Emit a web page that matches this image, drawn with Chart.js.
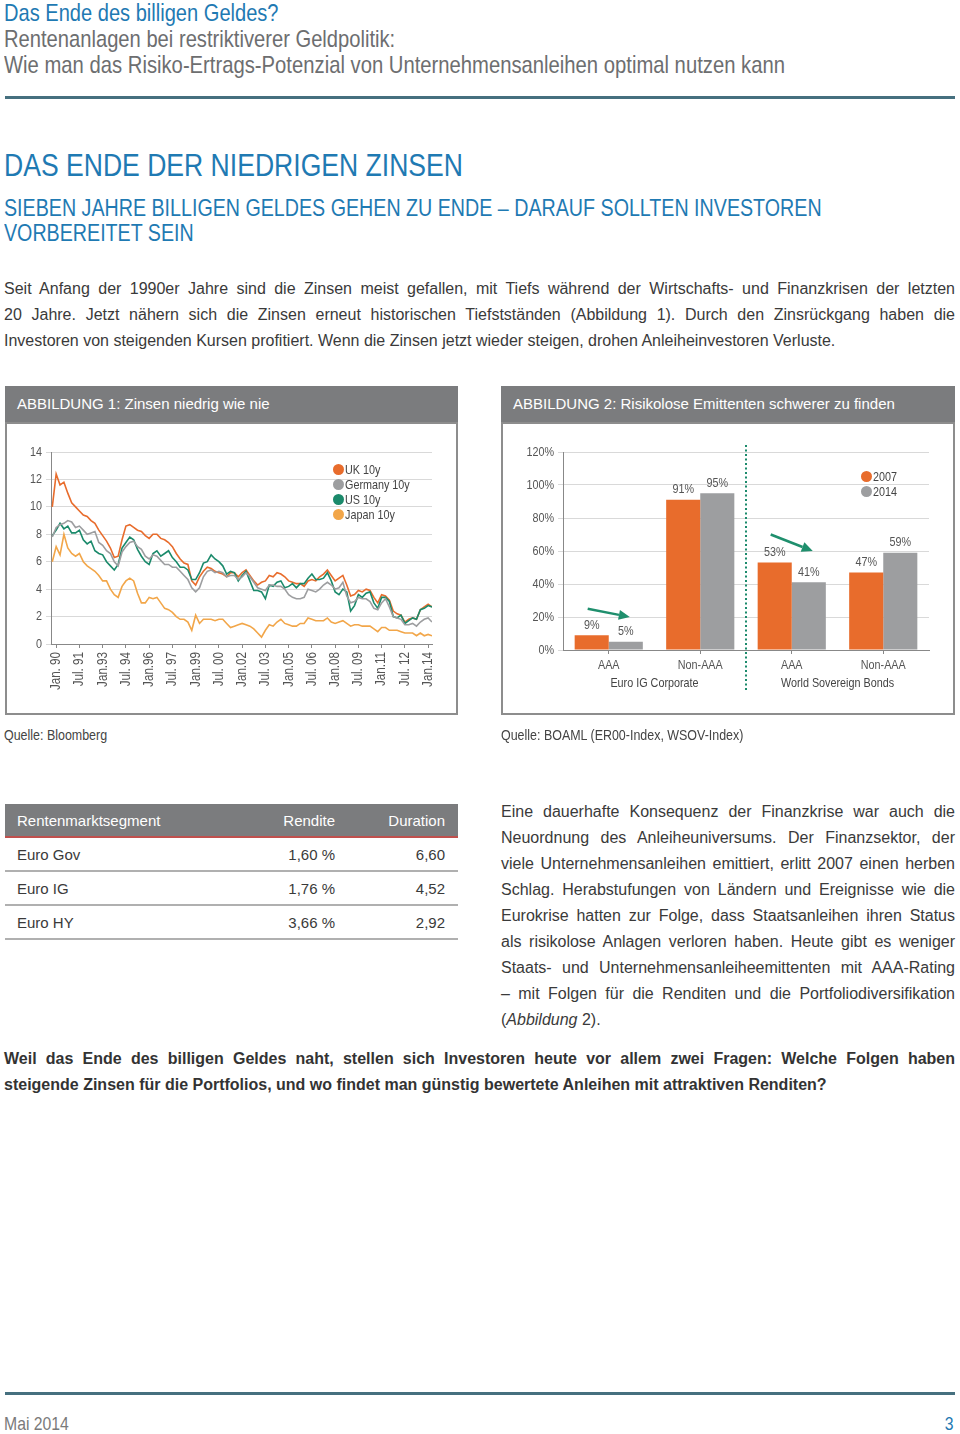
<!DOCTYPE html>
<html>
<head>
<meta charset="utf-8">
<script src="https://cdn.jsdelivr.net/npm/chart.js/dist/chart.umd.min.js"></script>
<style>
    body { margin: 0; background: #fff; }
    #page { position: relative; width: 960px; height: 1434px; overflow: hidden;
            font-family: "Liberation Sans", Arial, sans-serif; color: #3a3a3a; }
    .abs { position: absolute; }
    /* schmale Schrift: Arial-Metrik, horizontal gestaucht */
    .cond { display: inline-block; white-space: nowrap; transform: scaleX(0.83); transform-origin: 0 50%; }
    .blue { color: #1f7ab3; }
    .grey { color: #6d6e70; }
    .rule { background: #46707f; height: 3px; }
    .just div { text-align: justify; text-align-last: justify; }
    .just div.last { text-align: left; text-align-last: left; }
    .phead { height: 36px; line-height: 36px; background: #7b7c7e; color: #fff; font-size: 15px;
             padding-left: 12px; box-sizing: border-box; }
    .pbody { height: 293px; border: 2px solid #8d8d8d; box-sizing: border-box; pointer-events: none; }
    .legend { font-size: 13px; line-height: 15px; color: #444; }
    .legend .dot { display: inline-block; width: 11px; height: 11px; border-radius: 50%;
                   vertical-align: -1px; margin-right: 1px; }
    .tbl { border-collapse: collapse; font-size: 15px; color: #3a3a3a; }
    .tbl td { padding: 0; height: 32px; border-bottom: 2px solid #b0b0b0; white-space: nowrap; }
    .tbl tr.th td { background: #7b7c7e; color: #fff; border-bottom: 2px solid #c0504d; }
    .tbl td.l { padding-left: 12px; }
    .tbl td.r { text-align: right; }
    .tbl td.pr { padding-right: 13px; }
</style>
</head>
<body>
<div id="page">

    <!-- Kopfzeile -->
    <div class="abs blue" style="left:4px; top:0; font-size:24.2px; line-height:26px;"><span class="cond">Das Ende des billigen Geldes?</span></div>
    <div class="abs grey" style="left:4px; top:26px; font-size:24.3px; line-height:26px;"><span class="cond">Rentenanlagen bei restriktiverer Geldpolitik:</span></div>
    <div class="abs grey" style="left:4px; top:52px; font-size:24.4px; line-height:26px;"><span class="cond">Wie man das Risiko-Ertrags-Potenzial von Unternehmensanleihen optimal nutzen kann</span></div>
    <div class="abs rule" style="left:5px; top:96px; width:950px;"></div>

    <!-- Überschriften -->
    <div class="abs blue" style="left:4px; top:145px; font-size:32px; line-height:40px;"><span class="cond">DAS ENDE DER NIEDRIGEN ZINSEN</span></div>
    <div class="abs blue" style="left:4px; top:196px; font-size:23.7px; line-height:25px;"><span class="cond">SIEBEN JAHRE BILLIGEN GELDES GEHEN ZU ENDE – DARAUF SOLLTEN INVESTOREN</span></div>
    <div class="abs blue" style="left:4px; top:221px; font-size:23.7px; line-height:25px;"><span class="cond">VORBEREITET SEIN</span></div>

    <!-- Einleitung -->
    <div class="abs just" style="left:4px; top:276px; width:951px; font-size:16px; line-height:26px;">
        <div>Seit Anfang der 1990er Jahre sind die Zinsen meist gefallen, mit Tiefs während der Wirtschafts- und Finanzkrisen der letzten</div>
        <div>20 Jahre. Jetzt nähern sich die Zinsen erneut historischen Tiefstständen (Abbildung 1). Durch den Zinsrückgang haben die</div>
        <div class="last">Investoren von steigenden Kursen profitiert. Wenn die Zinsen jetzt wieder steigen, drohen Anleiheinvestoren Verluste.</div>
    </div>

    <!-- Abbildung 1 -->
    <div class="abs phead" style="left:5px; top:386px; width:453px;">ABBILDUNG 1: Zinsen niedrig wie nie</div>
    <canvas id="chart1" class="abs" width="453" height="293" style="left:5px; top:422px;"></canvas>
    <div class="abs pbody" style="left:5px; top:422px; width:453px;"></div>
    <div class="abs legend" style="left:333px; top:462px;">
        <div><span class="dot" style="background:#e86c2c"></span><span class="cond">UK 10y</span></div>
        <div><span class="dot" style="background:#9d9ea0"></span><span class="cond">Germany 10y</span></div>
        <div><span class="dot" style="background:#1b8a6b"></span><span class="cond">US 10y</span></div>
        <div><span class="dot" style="background:#f2a649"></span><span class="cond">Japan 10y</span></div>
    </div>

    <!-- Abbildung 2 -->
    <div class="abs phead" style="left:501px; top:386px; width:454px;">ABBILDUNG 2: Risikolose Emittenten schwerer zu finden</div>
    <canvas id="chart2" class="abs" width="454" height="293" style="left:501px; top:422px;"></canvas>
    <div class="abs pbody" style="left:501px; top:422px; width:454px;"></div>
    <div class="abs legend" style="left:861px; top:469px;">
        <div><span class="dot" style="background:#e86c2c"></span><span class="cond">2007</span></div>
        <div><span class="dot" style="background:#9d9ea0"></span><span class="cond">2014</span></div>
    </div>

    <div class="abs" style="left:4px; top:725px; font-size:15px; line-height:20px; color:#444;"><span class="cond">Quelle: Bloomberg</span></div>
    <div class="abs" style="left:501px; top:725px; font-size:15px; line-height:20px; color:#444;"><span class="cond">Quelle: BOAML (ER00-Index, WSOV-Index)</span></div>

    <!-- Tabelle -->
    <table class="abs tbl" style="left:5px; top:804px; width:453px;">
        <colgroup><col style="width:240px"><col style="width:90px"><col style="width:123px"></colgroup>
        <tr class="th"><td class="l">Rentenmarktsegment</td><td class="r">Rendite</td><td class="r pr">Duration</td></tr>
        <tr><td class="l">Euro Gov</td><td class="r">1,60 %</td><td class="r pr">6,60</td></tr>
        <tr><td class="l">Euro IG</td><td class="r">1,76 %</td><td class="r pr">4,52</td></tr>
        <tr><td class="l">Euro HY</td><td class="r">3,66 %</td><td class="r pr">2,92</td></tr>
    </table>

    <!-- rechte Spalte -->
    <div class="abs just" style="left:501px; top:799px; width:454px; font-size:16px; line-height:26px;">
        <div>Eine dauerhafte Konsequenz der Finanzkrise war auch die</div>
        <div>Neuordnung des Anleiheuniversums. Der Finanzsektor, der</div>
        <div>viele Unternehmensanleihen emittiert, erlitt 2007 einen herben</div>
        <div>Schlag. Herabstufungen von Ländern und Ereignisse wie die</div>
        <div>Eurokrise hatten zur Folge, dass Staatsanleihen ihren Status</div>
        <div>als risikolose Anlagen verloren haben. Heute gibt es weniger</div>
        <div>Staats- und Unternehmensanleiheemittenten mit AAA-Rating</div>
        <div>– mit Folgen für die Renditen und die Portfoliodiversifikation</div>
        <div class="last">(<i>Abbildung</i> 2).</div>
    </div>

    <div class="abs just" style="left:4px; top:1046px; width:951px; font-size:16px; line-height:26px; font-weight:bold; color:#333;">
        <div>Weil das Ende des billigen Geldes naht, stellen sich Investoren heute vor allem zwei Fragen: Welche Folgen haben</div>
        <div class="last">steigende Zinsen für die Portfolios, und wo findet man günstig bewertete Anleihen mit attraktiven Renditen?</div>
    </div>

    <!-- Fußzeile -->
    <div class="abs rule" style="left:5px; top:1392px; width:950px;"></div>
    <div class="abs" style="left:4px; top:1415px; font-size:19px; line-height:18px; color:#7a7a7a;"><span class="cond">Mai 2014</span></div>
    <div class="abs blue" style="left:935px; top:1415px; width:19px; text-align:right; font-size:19px; line-height:18px;"><span class="cond" style="transform-origin:100% 50%;">3</span></div>
</div>

<script>
    const sans = '"Liberation Sans", Arial, sans-serif';
    const SQUEEZE = 0.83;
    Chart.defaults.font.family = sans;
    Chart.defaults.font.size = 13;
    Chart.defaults.color = '#555';

    const ORANGE = '#e86c2c', GRAY = '#9d9ea0', GREEN = '#1b8a6b', LIGHTORANGE = '#f2a649';

    // ---- Abbildung 1: 10-jährige Renditen, quartalsweise ab Okt. 1989 (Monat -3) ----
    const startMonth = -3;
    const xTickLabels = ['Jan. 90', 'Jul. 91', 'Jan.93', 'Jul. 94', 'Jan.96', 'Jul. 97', 'Jan.99', 'Jul. 00',
                         'Jan.02', 'Jul. 03', 'Jan.05', 'Jul. 06', 'Jan.08', 'Jul. 09', 'Jan.11', 'Jul. 12', 'Jan.14'];

    const uk10y = [
        10.0,
        12.4, 11.6, 11.8, 11.0,   // 1990
        10.3, 10.0, 9.7, 9.4,     // 1991
        9.3, 9.0, 8.8, 8.3,       // 1992
        7.9, 7.5, 7.0, 6.3,       // 1993
        6.4, 7.6, 8.6, 8.7,       // 1994
        8.5, 8.3, 8.2, 7.9,       // 1995
        7.7, 8.0, 8.0, 7.7,       // 1996
        7.6, 7.4, 7.1, 6.6,       // 1997
        6.2, 5.9, 5.8, 4.6,       // 1998
        4.3, 4.9, 5.3, 5.6,       // 1999
        5.5, 5.3, 5.2, 5.1,       // 2000
        4.9, 5.2, 5.2, 4.9,       // 2001
        5.2, 5.4, 5.0, 4.6,       // 2002
        4.3, 4.5, 4.6, 5.0,       // 2003
        4.9, 5.2, 5.1, 4.9,       // 2004
        4.6, 4.5, 4.4, 4.4,       // 2005
        4.2, 4.6, 4.7, 4.6,       // 2006
        4.9, 5.1, 5.4, 5.0,       // 2007
        4.6, 4.8, 5.0, 4.3,       // 2008
        3.5, 3.6, 3.9, 3.8,       // 2009
        4.0, 3.9, 3.4, 3.0,       // 2010
        3.6, 3.5, 3.2, 2.4,       // 2011
        2.2, 2.1, 1.6, 1.8,       // 2012
        1.9, 1.8, 2.5, 2.7,       // 2013
        2.9, 2.7                  // 2014
    ];
    const germany10y = [
        7.8,
        8.5, 8.7, 8.8, 9.0,
        8.9, 8.5, 8.6, 8.3,
        8.0, 8.1, 8.2, 7.4,
        7.2, 6.8, 6.6, 6.0,
        5.7, 6.7, 7.1, 7.4,
        7.5, 7.1, 6.9, 6.4,
        6.2, 6.5, 6.4, 6.1,
        5.8, 5.8, 5.6, 5.6,
        5.3, 5.0, 4.7, 4.1,
        3.8, 4.1, 4.9, 5.3,
        5.4, 5.2, 5.3, 5.2,
        4.9, 5.0, 5.0, 4.7,
        4.9, 5.2, 4.9, 4.5,
        4.1, 4.0, 3.9, 4.3,
        4.3, 4.2, 4.2, 4.0,
        3.6, 3.4, 3.3, 3.3,
        3.4, 4.0, 3.9, 3.8,
        4.0, 4.3, 4.5, 4.3,
        4.0, 4.1, 4.5, 3.5,
        3.0, 3.1, 3.4, 3.3,
        3.3, 3.1, 2.6, 2.5,
        3.0, 3.3, 2.7, 2.0,
        1.9, 1.8, 1.4, 1.4,
        1.5, 1.3, 1.6, 1.8,
        1.9, 1.6
    ];
    const us10y = [
        7.9,
        8.3, 8.8, 8.4, 8.6,
        8.1, 8.1, 8.3, 7.6,
        7.3, 7.5, 6.8, 6.6,
        6.5, 6.0, 5.7, 5.4,
        5.8, 7.0, 7.4, 7.8,
        7.6, 6.9, 6.4, 6.0,
        5.8, 6.6, 6.8, 6.4,
        6.6, 6.8, 6.3, 6.0,
        5.6, 5.6, 5.4, 4.7,
        4.7, 5.2, 5.9, 6.0,
        6.5, 6.2, 6.0, 5.7,
        5.1, 5.3, 5.2, 4.6,
        5.0, 5.3, 4.6, 3.9,
        3.9, 3.8, 3.3, 4.3,
        4.2, 4.5, 4.6, 4.1,
        4.2, 4.4, 4.1, 4.4,
        4.4, 4.8, 5.1, 4.7,
        4.7, 4.8, 5.2, 4.6,
        3.8, 3.6, 4.0, 3.8,
        2.4, 2.8, 3.6, 3.4,
        3.7, 3.8, 3.0, 2.6,
        3.4, 3.4, 3.1, 2.0,
        1.9, 2.1, 1.5, 1.7,
        1.9, 1.8, 2.5, 2.6,
        2.8, 2.7
    ];
    const japan10y = [
        6.0,
        7.1, 6.5, 8.0, 7.0,
        6.6, 6.4, 6.6, 6.0,
        5.7, 5.5, 5.3, 5.0,
        4.6, 4.6, 4.0, 3.6,
        3.4, 4.2, 4.6, 4.8,
        4.6, 3.7, 3.0, 3.0,
        3.4, 3.3, 3.4, 3.0,
        2.6, 2.5, 2.3, 2.0,
        1.8, 1.8, 1.6, 1.0,
        2.1, 1.5, 1.8, 1.8,
        1.8, 1.7, 1.8, 1.8,
        1.5, 1.2, 1.3, 1.4,
        1.5, 1.4, 1.3, 1.1,
        0.8, 0.5, 1.0, 1.4,
        1.3, 1.6, 1.8, 1.5,
        1.4, 1.3, 1.3, 1.5,
        1.5, 1.9, 1.8, 1.7,
        1.7, 1.7, 1.9, 1.6,
        1.5, 1.6, 1.7, 1.5,
        1.3, 1.4, 1.4, 1.3,
        1.3, 1.3, 1.1, 0.9,
        1.2, 1.2, 1.0, 1.0,
        1.0, 0.9, 0.8, 0.8,
        0.8, 0.6, 0.8, 0.6,
        0.7, 0.6
    ];

    // ---- Abbildung 2: Anteile in % ----
    const ratingLabels = ['AAA', 'Non-AAA', 'AAA', 'Non-AAA'];
    const groupLabels = ['Euro IG Corporate', 'World Sovereign Bonds'];
    const share2007 = [9, 91, 53, 47];
    const share2014 = [5, 95, 41, 59];

    // Text in schmaler Schrift auf das Canvas schreiben
    function condText(ctx, text, x, y, align, rot) {
        ctx.save();
        ctx.translate(x, y);
        if (rot) ctx.rotate(rot);
        ctx.scale(SQUEEZE, 1);
        ctx.textAlign = align;
        ctx.fillText(text, 0, 0);
        ctx.restore();
    }

    // Achsenbeschriftungen selbst zeichnen (schmal)
    const condTicks = {
        id: 'condTicks',
        afterDraw(chart, args, opts) {
            const { ctx, scales: { x, y } } = chart;
            ctx.save();
            ctx.fillStyle = '#555';
            ctx.textBaseline = 'middle';
            ctx.font = '13px ' + sans;
            y.ticks.forEach((t, i) => condText(ctx, opts.yLabel(t.value), y.right - 9, y.getPixelForTick(i), 'right', 0));
            ctx.font = opts.xSize + 'px ' + sans;
            x.ticks.forEach((t, i) => {
                const px = x.getPixelForTick(i);
                const lbl = opts.xLabel(t.value);
                if (opts.rotate) condText(ctx, lbl, px, x.top + 8, 'right', -Math.PI / 2);
                else condText(ctx, lbl, px, x.top + 15, 'center', 0);
            });
            ctx.restore();
        }
    };

    const toPoints = vals => vals.map((v, i) => ({ x: startMonth + 3 * i, y: v }));
    const lineSet = (label, vals, color) => ({
        label: label, data: toPoints(vals), borderColor: color, backgroundColor: color,
        borderWidth: 1.6, pointRadius: 0, tension: 0
    });

    new Chart(document.getElementById('chart1'), {
        type: 'line',
        data: {
            datasets: [
                lineSet('Germany 10y', germany10y, GRAY),
                lineSet('US 10y', us10y, GREEN),
                lineSet('Japan 10y', japan10y, LIGHTORANGE),
                lineSet('UK 10y', uk10y, ORANGE)
            ]
        },
        options: {
            responsive: false,
            animation: false,
            layout: { padding: { left: 0, right: 26, top: 30, bottom: 0 } },
            plugins: {
                legend: { display: false }, tooltip: { enabled: false },
                condTicks: { rotate: true, xSize: 14, yLabel: v => String(v), xLabel: v => xTickLabels[Math.round(v / 18)] }
            },
            scales: {
                x: {
                    type: 'linear', min: -4, max: 291,
                    ticks: { display: false, stepSize: 18, includeBounds: false, autoSkip: false },
                    grid: { drawOnChartArea: false, tickLength: 4, color: '#888' },
                    border: { color: '#888' },
                    afterFit: s => { s.height = 71; }
                },
                y: {
                    min: 0, max: 14,
                    ticks: { display: false, stepSize: 2 },
                    grid: { color: '#d9d9d9', tickLength: 5 },
                    border: { color: '#888' },
                    afterFit: s => { s.width = 46; }
                }
            }
        },
        plugins: [condTicks]
    });

    // Pfeile: von Balken 2007 nach Balken 2014 (Höhe in %)
    const arrows = [{ cat: 0, from: 25, to: 20 }, { cat: 2, from: 70, to: 60 }];

    function drawArrow(ctx, x0, y0, x1, y1) {
        const ang = Math.atan2(y1 - y0, x1 - x0), len = 11, half = 5;
        const bx = x1 - len * Math.cos(ang), by = y1 - len * Math.sin(ang);
        ctx.beginPath(); ctx.moveTo(x0, y0); ctx.lineTo(bx, by); ctx.stroke();
        ctx.beginPath();
        ctx.moveTo(x1, y1);
        ctx.lineTo(bx + half * Math.sin(ang), by - half * Math.cos(ang));
        ctx.lineTo(bx - half * Math.sin(ang), by + half * Math.cos(ang));
        ctx.closePath(); ctx.fill();
    }

    const barExtras = {
        id: 'barExtras',
        afterDatasetsDraw(chart) {
            const { ctx, chartArea, scales: { x, y } } = chart;
            ctx.save();
            ctx.font = '13px ' + sans;
            ctx.textBaseline = 'middle';
            ctx.fillStyle = '#555';
            chart.data.datasets.forEach((ds, di) => {
                chart.getDatasetMeta(di).data.forEach((bar, i) => {
                    condText(ctx, ds.data[i] + '%', bar.x, bar.y - 10, 'center', 0);
                });
            });
            ctx.fillStyle = '#444';
            groupLabels.forEach((g, k) => {
                const cx = (x.getPixelForValue(2 * k) + x.getPixelForValue(2 * k + 1)) / 2;
                condText(ctx, g, cx, chartArea.bottom + 33, 'center', 0);
            });
            // gepunktete Trennlinie
            const sx = (x.getPixelForValue(1) + x.getPixelForValue(2)) / 2;
            ctx.strokeStyle = GREEN;
            ctx.lineWidth = 2;
            ctx.setLineDash([2, 2.5]);
            ctx.beginPath(); ctx.moveTo(sx, chartArea.top - 7); ctx.lineTo(sx, chartArea.bottom + 40); ctx.stroke();
            ctx.setLineDash([]);
            ctx.fillStyle = '#1f8f6d';
            ctx.strokeStyle = '#1f8f6d';
            ctx.lineWidth = 2.5;
            arrows.forEach(a => {
                const b0 = chart.getDatasetMeta(0).data[a.cat], b1 = chart.getDatasetMeta(1).data[a.cat];
                drawArrow(ctx, b0.x - 4, y.getPixelForValue(a.from), b1.x + 4, y.getPixelForValue(a.to));
            });
            ctx.restore();
        }
    };

    new Chart(document.getElementById('chart2'), {
        type: 'bar',
        data: {
            labels: ratingLabels,
            datasets: [
                { label: '2007', data: share2007, backgroundColor: ORANGE },
                { label: '2014', data: share2014, backgroundColor: GRAY }
            ]
        },
        options: {
            responsive: false,
            animation: false,
            layout: { padding: { left: 0, right: 26, top: 30, bottom: 0 } },
            datasets: { bar: { barPercentage: 1, categoryPercentage: 0.745 } },
            plugins: {
                legend: { display: false }, tooltip: { enabled: false },
                condTicks: { rotate: false, xSize: 13, yLabel: v => v + '%', xLabel: v => ratingLabels[v] }
            },
            scales: {
                x: {
                    ticks: { display: false },
                    grid: { offset: false, drawOnChartArea: false, tickLength: 4, color: '#888' },
                    border: { color: '#888' },
                    afterFit: s => { s.height = 65; }
                },
                y: {
                    min: 0, max: 120,
                    ticks: { display: false, stepSize: 20 },
                    grid: { color: '#d9d9d9', tickLength: 5 },
                    border: { color: '#888' },
                    afterFit: s => { s.width = 62; }
                }
            }
        },
        plugins: [barExtras, condTicks]
    });
</script>
</body>
</html>
